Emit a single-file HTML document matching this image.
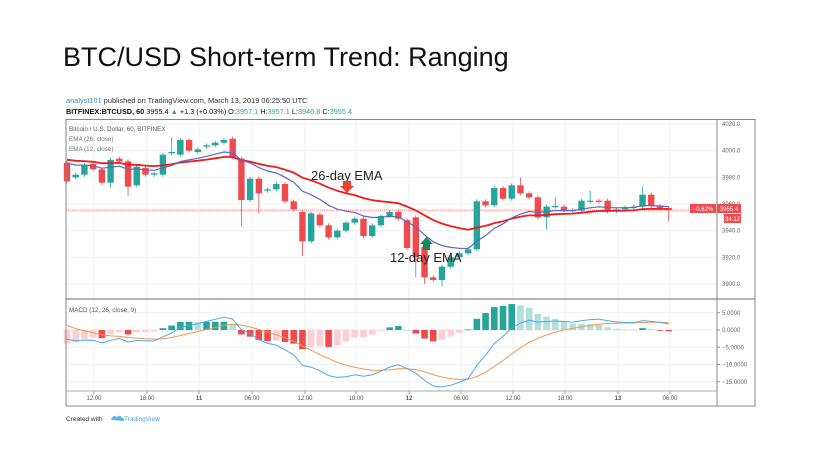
<!DOCTYPE html>
<html><head><meta charset="utf-8"><style>
body{margin:0;background:#fff;width:814px;height:459px;overflow:hidden;font-family:"Liberation Sans",sans-serif}
</style></head><body>
<svg id="s" width="814" height="459" xmlns="http://www.w3.org/2000/svg" font-family="Liberation Sans, sans-serif">
<text x="63" y="66" font-size="27" fill="#111">BTC/USD Short-term Trend: Ranging</text>
<text x="66" y="103" font-size="7.4" fill="#333"><tspan fill="#3a86c8">analyst101</tspan> published on TradingView.com, March 13, 2019 06:25:50 UTC</text>
<text x="66" y="114" font-size="7.3" fill="#111" font-weight="bold">BITFINEX:BTCUSD, 60 <tspan font-weight="normal">3955.4 <tspan fill="#26a69a">▲</tspan> +1.3 (+0.03%) O:<tspan fill="#26a69a">3957.1</tspan> H:<tspan fill="#26a69a">3957.1</tspan> L:<tspan fill="#26a69a">3946.8</tspan> C:<tspan fill="#26a69a">3955.4</tspan></tspan></text>
<g id="g"></g>
</svg>
<script>
var g=document.getElementById('g'),h='';
function L(x1,y1,x2,y2,c,w,d){h+='<line x1="'+x1+'" y1="'+y1+'" x2="'+x2+'" y2="'+y2+'" stroke="'+c+'" stroke-width="'+(w||1)+'"'+(d?' stroke-dasharray="'+d+'"':'')+'/>';}
function T(x,y,t,s,c,a,extra){h+='<text x="'+x+'" y="'+y+'" font-size="'+s+'" fill="'+c+'"'+(a?' text-anchor="'+a+'"':'')+(extra||'')+'>'+t+'</text>';}
function R(x,y,w,hh,c){h+='<rect x="'+x+'" y="'+y+'" width="'+w+'" height="'+hh+'" fill="'+c+'"/>';}
var PY=function(p){return 124+(4020-p)*1.3333;};
var MY=function(v){return 330-v*3.45;};
var tx=[94,147,199,252,305,356,409,461,513,565,618,670],tl=['12:00','18:00','11','06:00','12:00','18:00','12','06:00','12:00','18:00','13','06:00'];
tx.forEach(function(x){L(x,120,x,391,'#edf1f5');});
[4020,4000,3980,3960,3940,3920,3900].forEach(function(p){L(66,PY(p),717,PY(p),'#edf1f5');T(722,PY(p)+2,p.toFixed(1),6,'#666');});
[5,0,-5,-10,-15].forEach(function(v){L(66,MY(v),717,MY(v),'#edf1f5');T(722,MY(v)+2,(v<0?'−':'')+Math.abs(v).toFixed(4),6,'#666');L(717,MY(v),720,MY(v),'#999');});
tx.forEach(function(x,i){T(x,400,tl[i],6,'#555','middle',i==2||i==6||i==10?' font-weight="bold"':'');L(x,391,x,394,'#999');});
var C=[[3991,3977],[3980,3982],[3982,3989],[3990,3986],[3986,3976],[3976,3993],[3994,3992],[3992,3973],[3974,3988],[3987,3982],[3982,3983],[3982,3997],[3998,3999],[3997,4008],[4008,4000],[3999,4001],[4003,4004],[4004,4006],[4006,4008],[4009,3995],[3994,3963],[3963,3979],[3979,3968],[3970,3971],[3971,3975],[3975,3962],[3962,3956],[3954,3932],[3932,3953],[3952,3944],[3944,3935],[3935,3940],[3940,3946],[3946,3949],[3949,3936],[3936,3944],[3944,3951],[3951,3954],[3954,3949],[3948,3927],[3950,3920],[3928,3905],[3905,3903],[3903,3913],[3913,3920],[3920,3923],[3923,3926],[3926,3962],[3962,3959],[3959,3972],[3972,3964],[3964,3974],[3974,3968],[3968,3965],[3965,3950],[3950,3958],[3958,3958.5],[3958,3955.5],[3955.5,3955],[3955,3962.5],[3962,3962.5],[3962.5,3962],[3962.5,3954.5],[3954.5,3956],[3956,3957.5],[3957.5,3958],[3958,3967],[3967,3958.5],[3958.5,3957],[3957,3955.4]];
var wk={7:3966,20:3943,22:3953,27:3921,40:3905,55:3941,56:3965,60:3970,52:3980,66:3973,69:3947,12:4010,41:3900,43:3898,5:3972};
L(66,PY(3955.4),717,PY(3955.4),'#f44',0.7,'1,1');
var xs=function(i){return 67+8.72*i;};
C.forEach(function(c,i){var o=c[0],cl=c[1],x=xs(i),col=cl>=o?'#26a69a':'#ef4a4e';var hi=Math.max(o,cl)+1.5,lo=Math.min(o,cl)-1.5;if(wk[i]){if(wk[i]>hi)hi=wk[i];else lo=wk[i];}
L(x,PY(hi),x,PY(lo),col,0.8);var t=PY(Math.max(o,cl)),b=PY(Math.min(o,cl));R(x-3.2,t,6.4,Math.max(1.2,b-t),col);});
var e12=3993,e26=3994.5,p12='',p26='',mac=[],sig=2.3,sg=[];
C.forEach(function(c,i){var cl=c[1];e12=e12+(cl-e12)*2/13;e26=e26+(cl-e26)*2/27;var m=e12-e26;sig=sig+(m-sig)*0.2;mac.push(m);sg.push(sig);p12+=xs(i)+','+PY(e12).toFixed(1)+' ';p26+=xs(i)+','+PY(e26).toFixed(1)+' ';});
h+='<polyline points="'+p26+'" fill="none" stroke="#ee1c1c" stroke-width="1.8"/>';
h+='<polyline points="'+p12+'" fill="none" stroke="#5a67c8" stroke-width="1.2"/>';
T(69,131,'Bitcoin / U.S. Dollar, 60, BITFINEX',6.3,'#555');T(69,141,'EMA (26, close)',6.3,'#777');T(69,151,'EMA (12, close)',6.3,'#777');
T(311,180,'26-day EMA',13,'#222');T(390,262,'12-day EMA',13,'#222');
h+='<polygon points="343,181 351,181 351,186 354,186 347,193 340,186 343,186" fill="#e8452e"/>';
h+='<polygon points="423,250 430,250 430,244 433,244 426.5,237 420,244 423,244" fill="#138a5a"/>';
T(69,312,'MACD (12, 26, close, 9)',6.3,'#555');
L(66,330,717,330,'#e6e9ee');
mac.forEach(function(m,i){var hv=m-sg[i],pv=i?mac[i-1]-sg[i-1]:hv,col;if(hv>=0)col=hv>=pv?'#26a69a':'#b2dfdb';else col=hv<pv?'#ef4a4e':'#ffcdd2';var y=MY(hv);R(xs(i)-3.3,Math.min(y,330),6.6,Math.max(0.8,Math.abs(y-330)),col);});
var pm='',ps='';mac.forEach(function(m,i){pm+=xs(i)+','+MY(m).toFixed(1)+' ';ps+=xs(i)+','+MY(sg[i]).toFixed(1)+' ';});
h+='<polyline points="'+ps+'" fill="none" stroke="#f7954a" stroke-width="1"/>';
h+='<polyline points="'+pm+'" fill="none" stroke="#4aa8ee" stroke-width="1"/>';
h+='<rect x="66" y="119.5" width="689" height="286.5" fill="none" stroke="#888" stroke-width="1"/>';
L(717,119.5,717,406,'#888');L(66,299,755,299,'#888',1.2);L(66,391,717,391,'#aaa');
R(690,204,26,9,'#f24a4e');T(703,211,'−0.62%',6,'#fff','middle');
R(717,204,24,9,'#f24a4e');T(729,211,'3955.4',6,'#fff','middle');
R(724,214,17,9,'#f24a4e');T(732.5,221,'34:12',6,'#fff','middle');
T(66,421,'Created with',6.5,'#333');
h+='<path d="M111 420 q2-6 6-3 q3-3 5 1 q3 0 2 3 z" fill="#5eb3e8"/>';
T(124,421,'TradingView',6.5,'#4aa3df');
g.innerHTML=h;
</script>
</body></html>
